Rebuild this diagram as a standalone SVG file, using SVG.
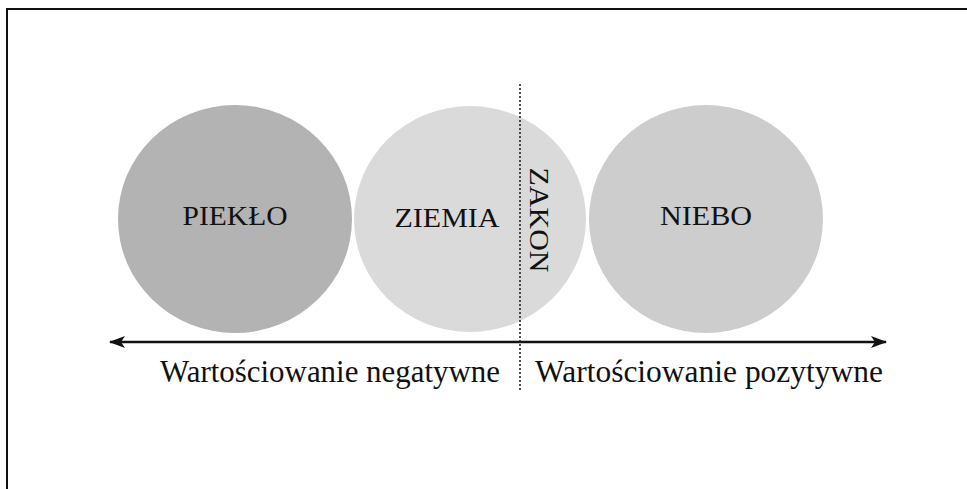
<svg xmlns="http://www.w3.org/2000/svg" width="967" height="489" viewBox="0 0 967 489">
<style>
.lbl{font-family:"Liberation Serif","Times New Roman",serif;fill:#111;}
.node{font-size:28px;}
.axis{font-size:32px;}
</style>
<defs>
<marker id="ah" viewBox="0 0 16 12" refX="15" refY="6" markerWidth="16" markerHeight="12" markerUnits="userSpaceOnUse" orient="auto-start-reverse">
<path d="M0,0 L16,6 L0,12 L4,6 Z" fill="#111"/>
</marker>
</defs>
<rect width="967" height="489" fill="#fff"/>
<path d="M7,489 V9 H967" fill="none" stroke="#111" stroke-width="2"/>
<g id="pieklo">
<ellipse cx="235" cy="219" rx="117" ry="114" fill="#b3b3b3"/>
<text class="lbl node" x="235" y="225" text-anchor="middle" textLength="105" lengthAdjust="spacingAndGlyphs">PIEKŁO</text>
</g>
<g id="ziemia">
<ellipse cx="470" cy="219" rx="116" ry="113" fill="#dadada"/>
<text class="lbl node" x="447" y="227" text-anchor="middle" textLength="105" lengthAdjust="spacingAndGlyphs">ZIEMIA</text>
</g>
<g id="niebo">
<ellipse cx="706" cy="219" rx="117" ry="114" fill="#cdcdcd"/>
<text class="lbl node" x="706" y="225" text-anchor="middle" textLength="92" lengthAdjust="spacingAndGlyphs">NIEBO</text>
</g>
<g id="zakon">
<text class="lbl node" transform="translate(530,220) rotate(90)" x="0" y="0" text-anchor="middle" textLength="105" lengthAdjust="spacingAndGlyphs">ZAKON</text>
</g>
<g id="connectors">
<line x1="110" y1="342" x2="886" y2="342" stroke="#111" stroke-width="2.5" marker-start="url(#ah)" marker-end="url(#ah)"/>
<line x1="520" y1="84" x2="520" y2="392" stroke="#222" stroke-width="1.6" stroke-dasharray="2,2"/>
</g>
<g id="axis-labels">
<text class="lbl axis" x="160" y="382" textLength="340" lengthAdjust="spacingAndGlyphs">Wartościowanie negatywne</text>
<text class="lbl axis" x="535" y="382" textLength="348" lengthAdjust="spacingAndGlyphs">Wartościowanie pozytywne</text>
</g>
</svg>
